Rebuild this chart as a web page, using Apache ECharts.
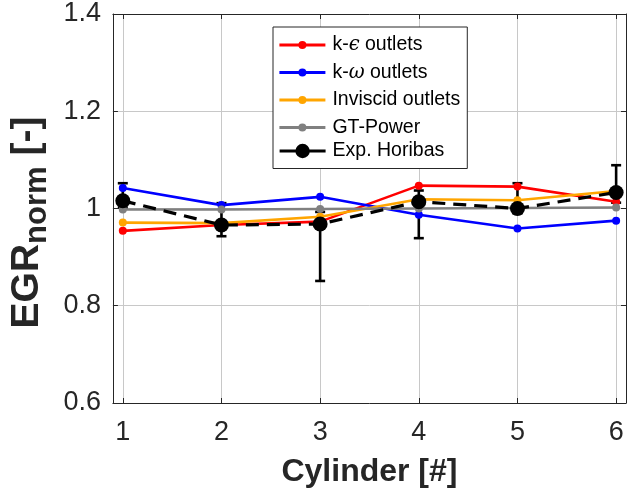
<!DOCTYPE html>
<html>
<head>
<meta charset="utf-8">
<script src="https://cdn.jsdelivr.net/npm/echarts@6/dist/echarts.min.js"></script>
<style>
html, body { margin: 0; padding: 0; background: #fff; }
#chart { width: 627px; height: 497px; }
</style>
</head>
<body>
<div id="chart"></div>
<script>
// cylinders and EGR_norm values
var cylinders = [1, 2, 3, 4, 5, 6];
var kEpsilon = [0.954, 0.966, 0.973, 1.047, 1.045, 1.014];
var kOmega = [1.042, 1.007, 1.024, 0.987, 0.959, 0.975];
var inviscid = [0.971, 0.970, 0.983, 1.019, 1.017, 1.036];
var gtPower = [0.998, 0.998, 0.999, 1.000, 1.001, 1.002];
var expHoribas = [1.016, 0.966, 0.968, 1.014, 1.000, 1.033];
var expLower = [1.002, 0.943, 0.851, 0.939, 0.990, 1.012];
var expUpper = [1.052, 1.011, 0.993, 1.037, 1.052, 1.089];

var font = 'Liberation Sans, Arial, Helvetica, sans-serif';
var axisColor = '#262626';

function pairs(values) {
    return cylinders.map(function (c, i) { return [c, values[i]]; });
}

// 误差棒
function renderErrorBar(params, api) {
    var x = api.value(0);
    var lo = api.coord([x, api.value(1)]);
    var hi = api.coord([x, api.value(2)]);
    var half = 5;
    var style = { stroke: '#000', lineWidth: 2.6 };
    return {
        type: 'group',
        children: [
            { type: 'line', shape: { x1: lo[0], y1: lo[1], x2: hi[0], y2: hi[1] }, style: style },
            { type: 'line', shape: { x1: lo[0] - half, y1: lo[1], x2: lo[0] + half, y2: lo[1] }, style: style },
            { type: 'line', shape: { x1: hi[0] - half, y1: hi[1], x2: hi[0] + half, y2: hi[1] }, style: style }
        ]
    };
}

function lineSeries(name, values, color) {
    return {
        name: name,
        type: 'line',
        data: pairs(values),
        symbol: 'circle',
        symbolSize: 8,
        itemStyle: { color: color },
        lineStyle: { color: color, width: 2.6 }
    };
}

var legendText = {
    fontSize: 19.5,
    color: '#000',
    fontFamily: font,
    padding: [0, 0, 0, 2],
    rich: {
        g: { fontSize: 19.5, fontStyle: 'italic', fontFamily: 'DejaVu Serif', color: '#000' }
    }
};
function legendFormatter(name) {
    return name.replace(/([ϵω])/, '{g|$1}');
}

var chart = echarts.init(document.getElementById('chart'));
var option = {
    animation: false,
    backgroundColor: '#fff',
    grid: { left: 112, right: 1, top: 14, bottom: 94, containLabel: false },
    legend: [{
        data: ['k-ϵ outlets', 'k-ω outlets', 'Inviscid outlets', 'GT-Power'],
        orient: 'vertical',
        left: 273,
        top: 27,
        itemWidth: 46,
        itemHeight: 10,
        itemGap: 7.5,
        padding: [8, 7, 31, 5],
        borderColor: axisColor,
        borderWidth: 1,
        borderRadius: 0,
        backgroundColor: '#fff',
        lineStyle: { width: 2.8 },
        textStyle: legendText,
        formatter: legendFormatter,
        z: 5
    }, {
        data: [{ name: 'Exp. Horibas', lineStyle: { type: 'solid', width: 3.2 } }],
        orient: 'vertical',
        left: 273,
        top: 141,
        itemWidth: 46,
        itemHeight: 18,
        padding: [0, 7, 0, 5],
        textStyle: legendText,
        z: 6
    }],
    xAxis: [{
        type: 'value',
        min: 0.9,
        max: 6.1,
        position: 'bottom',
        name: 'Cylinder [#]',
        nameLocation: 'middle',
        nameGap: 53,
        nameTextStyle: { fontSize: 32, fontWeight: 'bold', color: axisColor, fontFamily: font },
        axisLine: { show: true, onZero: false, lineStyle: { color: axisColor, width: 1 } },
        axisTick: { show: true, inside: true, length: 5, customValues: cylinders, lineStyle: { color: axisColor } },
        axisLabel: { customValues: cylinders, fontSize: 27, color: axisColor, fontFamily: font, margin: 16 },
        splitLine: { show: true, lineStyle: { color: '#c8c8c8', width: 1 } }
    }, {
        type: 'value',
        min: 0.9,
        max: 6.1,
        position: 'top',
        axisLine: { show: true, onZero: false, lineStyle: { color: axisColor, width: 1 } },
        axisTick: { show: true, inside: true, length: 5, customValues: cylinders, lineStyle: { color: axisColor } },
        axisLabel: { show: false },
        splitLine: { show: false }
    }],
    yAxis: [{
        type: 'value',
        min: 0.6,
        max: 1.4,
        interval: 0.2,
        position: 'left',
        name: '{b|EGR}{s|norm}{b| [-]}',
        nameLocation: 'middle',
        nameGap: 60,
        nameRotate: 90,
        nameTextStyle: {
            color: axisColor,
            padding: [0, 28, 0, 0],
            rich: {
                b: { fontSize: 39, fontWeight: 'bold', color: axisColor, fontFamily: font, lineHeight: 50, verticalAlign: 'middle' },
                s: { fontSize: 31, fontWeight: 'bold', color: axisColor, fontFamily: font, lineHeight: 12, verticalAlign: 'bottom' }
            }
        },
        axisLine: { show: true, lineStyle: { color: axisColor, width: 1 } },
        axisTick: { show: true, inside: true, length: 5, lineStyle: { color: axisColor } },
        axisLabel: { fontSize: 27, color: axisColor, fontFamily: font, margin: 12 },
        splitLine: { show: true, lineStyle: { color: '#c8c8c8', width: 1 } }
    }, {
        type: 'value',
        min: 0.6,
        max: 1.4,
        interval: 0.2,
        position: 'right',
        axisLine: { show: true, lineStyle: { color: axisColor, width: 1 } },
        axisTick: { show: true, inside: true, length: 5, lineStyle: { color: axisColor } },
        axisLabel: { show: false },
        splitLine: { show: false }
    }],
    series: [
        lineSeries('k-ϵ outlets', kEpsilon, '#ff0000'),
        lineSeries('k-ω outlets', kOmega, '#0000ff'),
        lineSeries('Inviscid outlets', inviscid, '#ffa500'),
        lineSeries('GT-Power', gtPower, '#808080'),
        {
            name: 'Exp. Horibas error',
            type: 'custom',
            renderItem: renderErrorBar,
            data: cylinders.map(function (c, i) { return [c, expLower[i], expUpper[i]]; }),
            z: 3
        },
        {
            name: 'Exp. Horibas',
            type: 'line',
            data: pairs(expHoribas),
            symbol: 'circle',
            symbolSize: 15,
            itemStyle: { color: '#000' },
            lineStyle: { color: '#000', width: 3.2, type: [13, 8] },
            z: 4
        }
    ]
};
chart.setOption(option);
</script>
</body>
</html>
